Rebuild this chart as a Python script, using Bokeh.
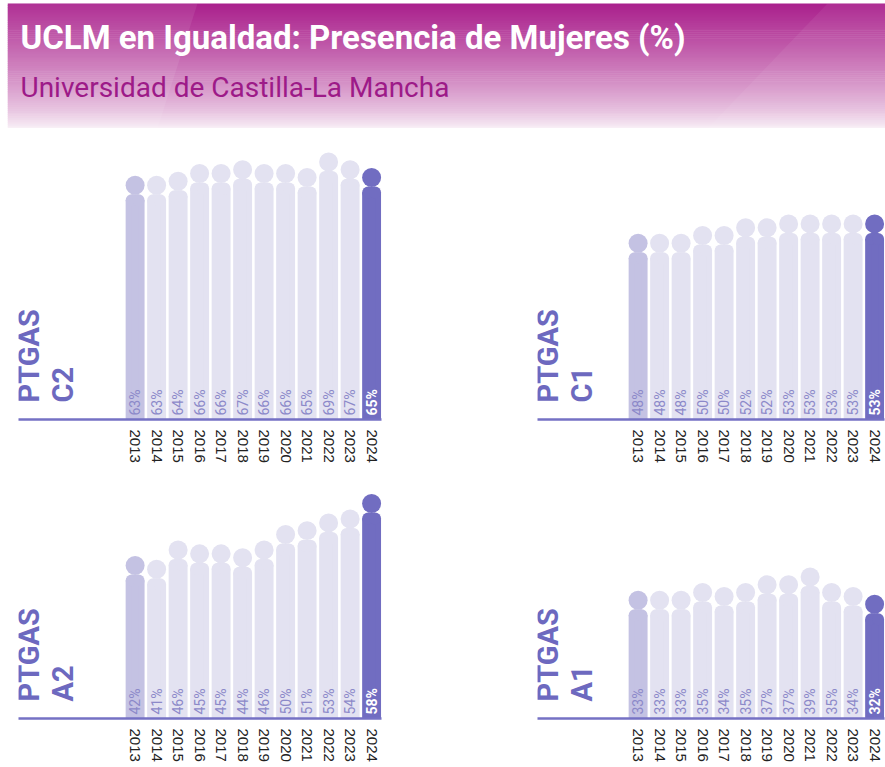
import math
from bokeh.plotting import figure
from bokeh.layouts import column, row
from bokeh.models import Range1d, FixedTicker
from bokeh.core.properties import value
from bokeh.embed import file_html
from bokeh.resources import INLINE

# ---------------- data ----------------
title_text = "UCLM en Igualdad: Presencia de Mujeres (%)"
subtitle_text = "Universidad de Castilla-La Mancha"
years = ["2013", "2014", "2015", "2016", "2017", "2018",
         "2019", "2020", "2021", "2022", "2023", "2024"]
ptgas_c2 = [63, 63, 64, 66, 66, 67, 66, 66, 65, 69, 67, 65]
ptgas_c1 = [48, 48, 48, 50, 50, 52, 52, 53, 53, 53, 53, 53]
ptgas_a2 = [42, 41, 46, 45, 45, 44, 46, 50, 51, 53, 54, 58]
ptgas_a1 = [33, 33, 33, 35, 34, 35, 37, 37, 39, 35, 34, 32]
panel_names = ["PTGAS\nC2", "PTGAS\nC1", "PTGAS\nA2", "PTGAS\nA1"]

# ---------------- style ----------------
SLOT = 21.5      # px per category
PPU = 3.87       # px per percent point
BAR_W = 0.88
FIRST_COL = "#c4c2e3"
MID_COL = "#e3e2f1"
LAST_COL = "#716dc1"
LABEL_COL = "#8c89c9"
AXIS_COL = "#7571c4"
NAME_COL = "#6d69bf"


def make_panel(vals, name, b_left, frame_w, b_right, frame_h, b_bottom):
    n = len(vals)
    idx = list(range(n))
    x_end = n - 1 + BAR_W / 2 + 0.02
    x_start = x_end - frame_w / SLOT
    y_end = frame_h / PPU
    p = figure(frame_width=frame_w, frame_height=frame_h,
               min_border_left=b_left, min_border_right=b_right,
               min_border_top=10, min_border_bottom=b_bottom,
               x_range=Range1d(x_start, x_end), y_range=Range1d(0, y_end),
               output_backend="svg", toolbar_location=None,
               y_axis_location=None)
    p.outline_line_color = None
    p.xgrid.visible = False
    p.ygrid.visible = False
    p.background_fill_color = "white"
    p.border_fill_color = "white"

    cols = [FIRST_COL if i == 0 else (LAST_COL if i == n - 1 else MID_COL) for i in idx]
    r_px = 6.0
    head_d = 19.0
    head_y = [v - (head_d / 2) / PPU for v in vals]
    shoulder_y = [v - (head_d - 0.5) / PPU for v in vals]
    corner_y = [v - (head_d - 0.5 + r_px) / PPU for v in vals]
    dx = BAR_W / 2 - r_px / SLOT

    p.vbar(x=idx, width=BAR_W, bottom=0, top=corner_y, fill_color=cols, line_color=None)
    p.vbar(x=idx, width=BAR_W - 2 * r_px / SLOT, bottom=0, top=shoulder_y,
           fill_color=cols, line_color=None)
    p.scatter(x=[i - dx for i in idx], y=corner_y, size=2 * r_px, marker="circle",
              fill_color=cols, line_color=None)
    p.scatter(x=[i + dx for i in idx], y=corner_y, size=2 * r_px, marker="circle",
              fill_color=cols, line_color=None)
    p.scatter(x=idx, y=head_y, size=head_d, marker="circle", fill_color=cols, line_color=None)

    labels = [f"{v}%" for v in vals]
    p.text(x=idx[:-1], y=[4.0 / PPU] * (n - 1), text=labels[:-1], angle=math.pi / 2,
           text_align="left", text_baseline="middle", text_color=LABEL_COL,
           text_font=value("Roboto"), text_font_size="14px")
    p.text(x=idx[-1:], y=[4.0 / PPU], text=labels[-1:], angle=math.pi / 2,
           text_align="left", text_baseline="middle", text_color="white",
           text_font=value("Roboto"), text_font_size="14px", text_font_style="bold")

    p.text(x=[x_start - 7.0 / SLOT], y=[17.0 / PPU], text=[name], angle=math.pi / 2,
           text_align="left", text_baseline="top", text_color=NAME_COL,
           text_font=value("Roboto"), text_font_size="29px", text_font_style="bold",
           text_line_height=1.0)

    ax = p.xaxis[0]
    ax.ticker = FixedTicker(ticks=idx)
    ax.major_label_overrides = {i: years[i] for i in idx}
    ax.major_label_orientation = "vertical"
    ax.major_tick_line_color = None
    ax.minor_tick_line_color = None
    ax.axis_line_color = AXIS_COL
    ax.axis_line_width = 2.5
    ax.major_label_standoff = 4
    ax.major_label_text_font = "Liberation Sans"
    ax.major_label_text_font_size = "15px"
    ax.major_label_text_color = "#222222"
    return p


# ---------------- header ----------------
HW, HH = 878, 125
h = figure(frame_width=HW, frame_height=HH, x_range=Range1d(0, HW), y_range=Range1d(0, HH),
           min_border_left=7, min_border_top=3, min_border_right=0, min_border_bottom=0,
           toolbar_location=None, output_backend="svg",
           x_axis_location=None, y_axis_location=None)
h.outline_line_color = None
h.xgrid.visible = False
h.ygrid.visible = False
h.border_fill_color = "white"

nstrip = 64
top_rgb = (170, 32, 140)
bot_rgb = (250, 244, 249)
bots, tops, scol = [], [], []
for k in range(nstrip):
    y0 = HH * k / nstrip
    y1 = HH * (k + 1) / nstrip
    t = ((k + 0.5) / nstrip) ** 0.75  # 0 bottom -> 1 top
    c = tuple(int(round(bot_rgb[j] + (top_rgb[j] - bot_rgb[j]) * t)) for j in range(3))
    bots.append(y0)
    tops.append(y1 + 0.5)
    scol.append("#%02x%02x%02x" % c)
h.quad(left=0, right=HW, bottom=bots, top=tops, fill_color=scol, line_color=None)
# faint light facets
h.patch(x=[0, 190, 150, 0], y=[HH, HH, 0, 0], fill_color="white", fill_alpha=0.08, line_color=None)
h.patch(x=[700, 878, 878, 820], y=[0, 0, HH, HH], fill_color="white", fill_alpha=0.06, line_color=None)

h.text(x=[13], y=[HH - 34], text=[title_text], text_font=value("Roboto"),
       text_font_style="bold", text_font_size="33px", text_color="white",
       text_baseline="alphabetic", text_align="left")
h.text(x=[13], y=[HH - 84], text=[subtitle_text], text_font=value("Roboto"),
       text_font_size="28px", text_color="#9d1a88",
       text_baseline="alphabetic", text_align="left")

# ---------------- panels ----------------
p1 = make_panel(ptgas_c2, panel_names[0], 18, 363, 61, 281, 51)
p2 = make_panel(ptgas_c1, panel_names[1], 95, 347, 1, 281, 51)
p3 = make_panel(ptgas_a2, panel_names[2], 18, 363, 61, 238, 49)
p4 = make_panel(ptgas_a1, panel_names[3], 95, 347, 1, 238, 49)

layout = column(h, row(p1, p2), row(p3, p4))
open("out.html", "w").write(file_html(layout, INLINE))
